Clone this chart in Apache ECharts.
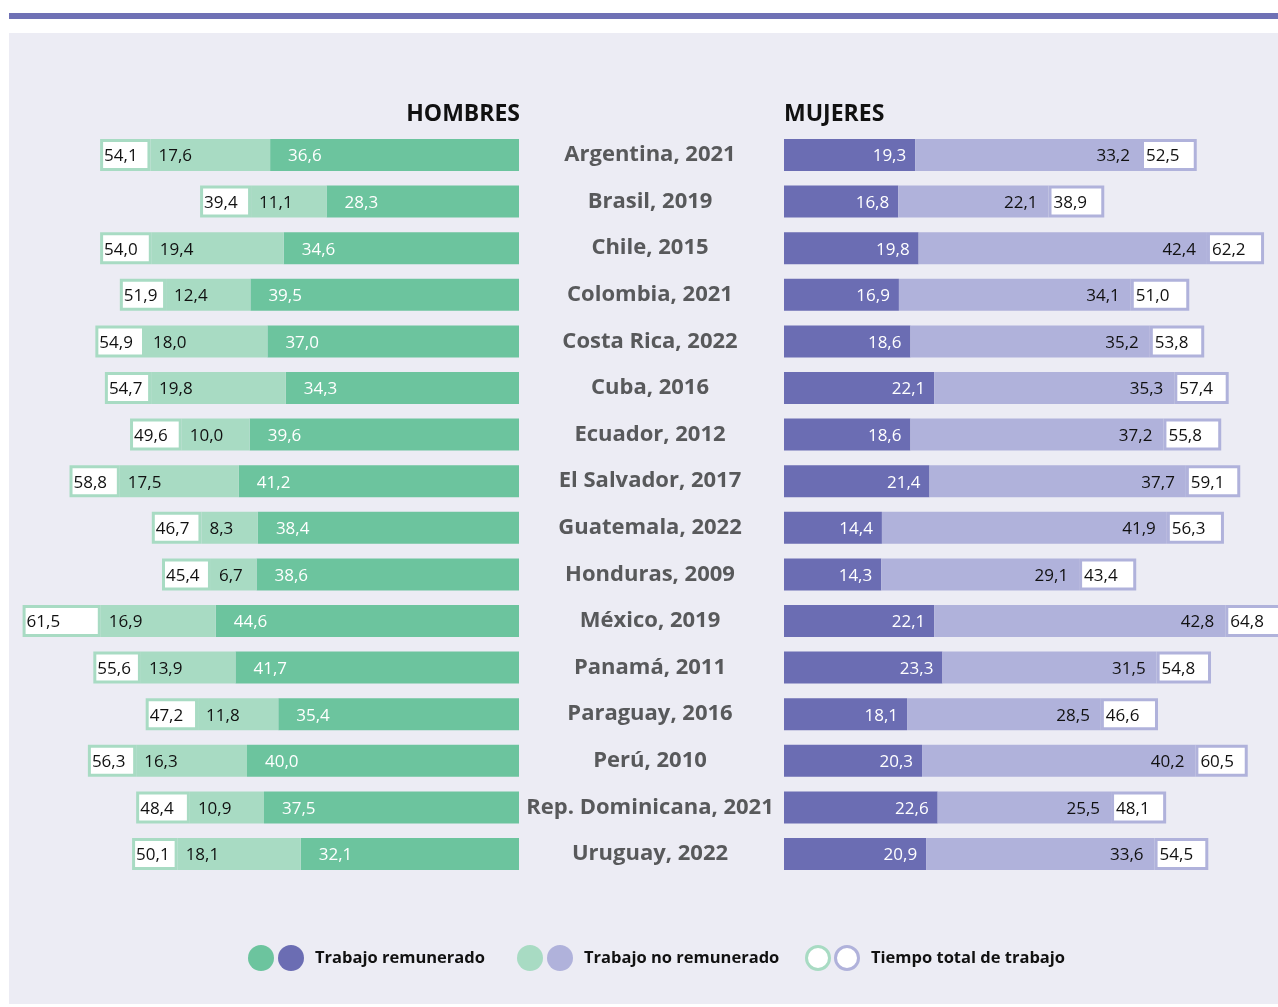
<!DOCTYPE html>
<html>
<head>
<meta charset="utf-8">
<script src="https://cdn.jsdelivr.net/npm/echarts@6/dist/echarts.min.js"></script>
<style>
  html, body { margin: 0; padding: 0; background: #ffffff; }
  #chart { width: 1278px; height: 1007px; }
</style>
</head>
<body>
<div id="chart"></div>
<script>
const countries = [
  'Argentina, 2021', 'Brasil, 2019', 'Chile, 2015', 'Colombia, 2021',
  'Costa Rica, 2022', 'Cuba, 2016', 'Ecuador, 2012', 'El Salvador, 2017',
  'Guatemala, 2022', 'Honduras, 2009', 'México, 2019', 'Panamá, 2011',
  'Paraguay, 2016', 'Perú, 2010', 'Rep. Dominicana, 2021', 'Uruguay, 2022'
]
const menPaid = [36.6, 28.3, 34.6, 39.5, 37.0, 34.3, 39.6, 41.2, 38.4, 38.6, 44.6, 41.7, 35.4, 40.0, 37.5, 32.1]
const menUnpaid = [17.6, 11.1, 19.4, 12.4, 18.0, 19.8, 10.0, 17.5, 8.3, 6.7, 16.9, 13.9, 11.8, 16.3, 10.9, 18.1]
const menTotal = [54.1, 39.4, 54.0, 51.9, 54.9, 54.7, 49.6, 58.8, 46.7, 45.4, 61.5, 55.6, 47.2, 56.3, 48.4, 50.1]
const womenPaid = [19.3, 16.8, 19.8, 16.9, 18.6, 22.1, 18.6, 21.4, 14.4, 14.3, 22.1, 23.3, 18.1, 20.3, 22.6, 20.9]
const womenUnpaid = [33.2, 22.1, 42.4, 34.1, 35.2, 35.3, 37.2, 37.7, 41.9, 29.1, 42.8, 31.5, 28.5, 40.2, 25.5, 33.6]
const womenTotal = [52.5, 38.9, 62.2, 51.0, 53.8, 57.4, 55.8, 59.1, 56.3, 43.4, 64.8, 54.8, 46.6, 60.5, 48.1, 54.5]
// width of the white "total" box drawn after each bar (axis units)
const menBox = [7.4, 7.5, 7.6, 6.8, 7.3, 6.8, 7.6, 7.4, 7.3, 7.2, 11.5, 7.0, 7.7, 7.1, 7.9, 6.7]
const womenBox = [8.2, 8.2, 8.4, 8.6, 8.0, 8.0, 8.5, 8.0, 8.4, 8.4, 8.2, 8.0, 8.4, 7.7, 8.1, 7.9]

const GREEN = '#6cc49e'
const GREEN_LIGHT = '#a8dbc3'
const PURPLE = '#6b6db3'
const PURPLE_LIGHT = '#b0b2db'
const FONT = '"Open Sans", sans-serif'

const fmt = v => v.toFixed(1).replace('.', ',')

const chart = echarts.init(document.getElementById('chart'))

const gridTop = 131.7
const gridHeight = 745.6

const barLabel = (position, distance, color, values) => ({
  show: true,
  position,
  distance,
  offset: [0, 1.5],
  color,
  fontSize: 17,
  fontFamily: FONT,
  formatter: p => fmt(values ? values[p.dataIndex] : p.value)
})

const legendFont = 'bold 16.5px ' + FONT

const option = {
  backgroundColor: 'transparent',
  animation: false,
  graphic: {
    elements: [
      { type: 'rect', z: -10, silent: true, shape: { x: 9, y: 33, width: 1269, height: 971 }, style: { fill: '#ececf4' } },
      { type: 'rect', z: -10, silent: true, shape: { x: 9, y: 13, width: 1269, height: 6 }, style: { fill: '#6f71b5' } },
      { type: 'text', silent: true, style: { x: 520, y: 114, text: 'HOMBRES', textAlign: 'right', textVerticalAlign: 'middle', font: 'bold 23px ' + FONT, fill: '#111' } },
      { type: 'text', silent: true, style: { x: 784, y: 114, text: 'MUJERES', textAlign: 'left', textVerticalAlign: 'middle', font: 'bold 23px ' + FONT, fill: '#111' } },
      // legend
      { type: 'circle', silent: true, shape: { cx: 261, cy: 958, r: 13 }, style: { fill: GREEN } },
      { type: 'circle', silent: true, shape: { cx: 291, cy: 958, r: 13 }, style: { fill: PURPLE } },
      { type: 'text', silent: true, style: { x: 315, y: 958, text: 'Trabajo remunerado', textVerticalAlign: 'middle', font: legendFont, fill: '#111' } },
      { type: 'circle', silent: true, shape: { cx: 530, cy: 958, r: 13 }, style: { fill: GREEN_LIGHT } },
      { type: 'circle', silent: true, shape: { cx: 560, cy: 958, r: 13 }, style: { fill: PURPLE_LIGHT } },
      { type: 'text', silent: true, style: { x: 584, y: 958, text: 'Trabajo no remunerado', textVerticalAlign: 'middle', font: legendFont, fill: '#111' } },
      { type: 'circle', silent: true, shape: { cx: 818, cy: 958, r: 11.5 }, style: { fill: '#fff', stroke: GREEN_LIGHT, lineWidth: 3 } },
      { type: 'circle', silent: true, shape: { cx: 847, cy: 958, r: 11.5 }, style: { fill: '#fff', stroke: PURPLE_LIGHT, lineWidth: 3 } },
      { type: 'text', silent: true, style: { x: 871, y: 958, text: 'Tiempo total de trabajo', textVerticalAlign: 'middle', font: legendFont, fill: '#111' } }
    ]
  },
  grid: [
    { left: 9, right: 759, top: gridTop, height: gridHeight },
    { left: 784, right: 0, top: gridTop, height: gridHeight }
  ],
  xAxis: [
    { gridIndex: 0, type: 'value', min: 0, max: 75, inverse: true, show: false },
    { gridIndex: 1, type: 'value', min: 0, max: 72.65, show: false }
  ],
  yAxis: [
    { gridIndex: 0, type: 'category', data: countries, inverse: true, show: false },
    {
      gridIndex: 1,
      type: 'category',
      data: countries,
      inverse: true,
      axisLine: { show: false },
      axisTick: { show: false },
      axisLabel: {
        margin: 134,
        align: 'center',
        fontSize: 22,
        fontWeight: 'bold',
        fontFamily: FONT,
        color: '#58595b'
      }
    }
  ],
  series: [
    {
      name: 'Hombres remunerado', type: 'bar', stack: 'men', xAxisIndex: 0, yAxisIndex: 0,
      barWidth: 32, clip: false, data: menPaid,
      itemStyle: { color: GREEN },
      label: barLabel('insideLeft', 18, '#ffffff')
    },
    {
      name: 'Hombres no remunerado', type: 'bar', stack: 'men', xAxisIndex: 0, yAxisIndex: 0,
      barWidth: 32, clip: false, data: menUnpaid,
      itemStyle: { color: GREEN_LIGHT },
      label: barLabel('insideLeft', 8, '#111111')
    },
    {
      name: 'Hombres total', type: 'bar', stack: 'men', xAxisIndex: 0, yAxisIndex: 0,
      barWidth: 32, clip: false, data: menBox,
      itemStyle: { color: '#ffffff', borderColor: GREEN_LIGHT, borderWidth: 3 },
      label: barLabel('insideLeft', 4, '#111111', menTotal)
    },
    {
      name: 'Mujeres remunerado', type: 'bar', stack: 'women', xAxisIndex: 1, yAxisIndex: 1,
      barWidth: 32, clip: false, data: womenPaid,
      itemStyle: { color: PURPLE },
      label: barLabel('insideRight', 9, '#ffffff')
    },
    {
      name: 'Mujeres no remunerado', type: 'bar', stack: 'women', xAxisIndex: 1, yAxisIndex: 1,
      barWidth: 32, clip: false, data: womenUnpaid,
      itemStyle: { color: PURPLE_LIGHT },
      label: barLabel('insideRight', 11, '#111111')
    },
    {
      name: 'Mujeres total', type: 'bar', stack: 'women', xAxisIndex: 1, yAxisIndex: 1,
      barWidth: 32, clip: false, data: womenBox,
      itemStyle: { color: '#ffffff', borderColor: PURPLE_LIGHT, borderWidth: 3 },
      label: barLabel('insideLeft', 5, '#111111', womenTotal)
    }
  ]
}

chart.setOption(option)
window.addEventListener('resize', () => chart.resize())
</script>
</body>
</html>
